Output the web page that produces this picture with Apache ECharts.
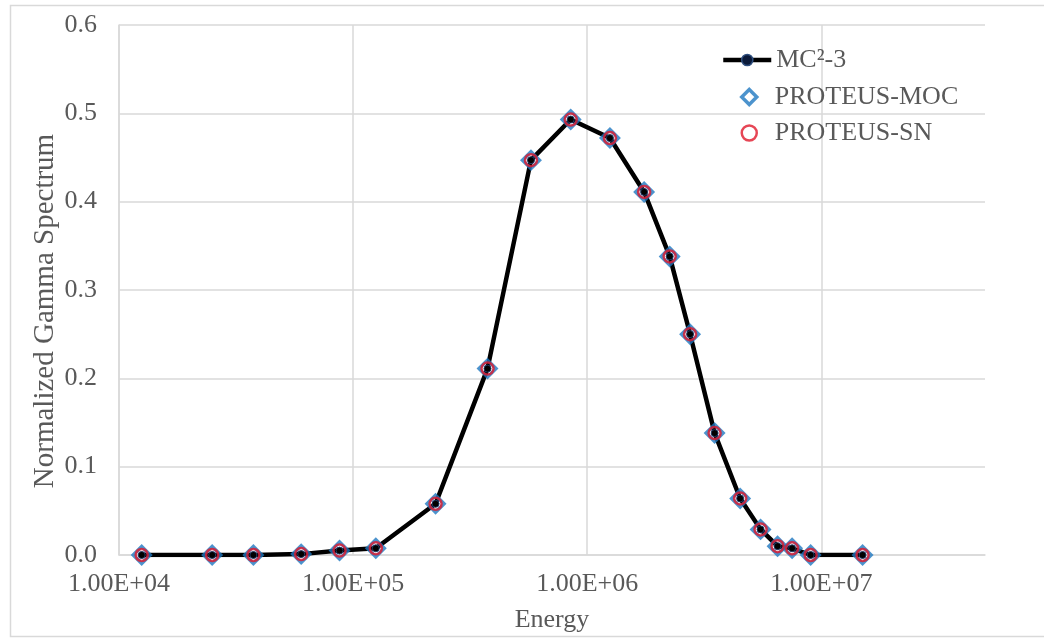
<!DOCTYPE html>
<html>
<head>
<meta charset="utf-8">
<script src="https://cdn.jsdelivr.net/npm/echarts@6/dist/echarts.min.js"></script>
<style>
  html, body { margin: 0; padding: 0; background: #fff; }
  #chart { width: 1044px; height: 638px; }
</style>
</head>
<body>
<div id="chart"></div>
<script>
// Energy points (eV)
const energies = [1.25e4, 2.5e4, 3.75e4, 6e4, 8.75e4, 1.25e5, 2.25e5, 3.75e5, 5.75e5, 8.5e5,
  1.25e6, 1.75e6, 2.25e6, 2.75e6, 3.5e6, 4.5e6, 5.5e6, 6.5e6, 7.5e6, 9e6, 1.5e7];
// Normalized gamma spectrum values
const mc2Values = [0, 0, 0, 0.001, 0.005, 0.0076, 0.058, 0.211, 0.447, 0.493,
  0.472, 0.411, 0.338, 0.250, 0.138, 0.064, 0.029, 0.010, 0.0076, 0, 0];
const mocValues = [0, 0, 0, 0.001, 0.005, 0.0076, 0.058, 0.211, 0.447, 0.493,
  0.472, 0.411, 0.338, 0.250, 0.138, 0.064, 0.029, 0.010, 0.0076, 0, 0];
const snValues = [0, 0, 0, 0.001, 0.005, 0.0076, 0.058, 0.211, 0.447, 0.493,
  0.472, 0.411, 0.338, 0.250, 0.138, 0.064, 0.029, 0.010, 0.0076, 0, 0];
const seriesNames = ['MC\u00B2-3', 'PROTEUS-MOC', 'PROTEUS-SN'];
const xAxisTitle = 'Energy';
const yAxisTitle = 'Normalized Gamma Spectrum';

const pairs = vals => energies.map((e, i) => [e, vals[i]]);
const FONT = '"Liberation Serif", "DejaVu Serif", serif';
const TXT = '#595959';
const GRID = '#d9d9d9';
const BLUE = '#1F78C1';
const RED = '#E0182B';

function sciLabel(v) {
  const exp = Math.floor(Math.log10(v) + 1e-9);
  const mant = v / Math.pow(10, exp);
  const sign = exp >= 0 ? '+' : '-';
  const e = String(Math.abs(exp)).padStart(2, '0');
  return mant.toFixed(2) + 'E' + sign + e;
}

const chart = echarts.init(document.getElementById('chart'), null, { renderer: 'canvas' });
chart.setOption({
  backgroundColor: '#fff',
  animation: false,
  graphic: [{
    type: 'rect',
    shape: { x: 10.5, y: 5.5, width: 1040, height: 631 },
    style: { fill: 'none', stroke: '#d9d9d9', lineWidth: 1.5 },
    silent: true
  }, {
    type: 'text',
    x: 45, y: 311,
    rotation: Math.PI / 2,
    style: {
      text: yAxisTitle, fontFamily: FONT, fontSize: 29, fill: TXT,
      align: 'center', verticalAlign: 'middle'
    },
    silent: true
  }],
  grid: { left: 119, right: 59, top: 25, bottom: 81, containLabel: false },
  legend: [{
    orient: 'vertical',
    left: 716,
    top: 42,
    itemWidth: 48,
    itemHeight: 14,
    textStyle: { fontFamily: FONT, fontSize: 26, color: TXT },
    data: [{
      name: seriesNames[0],
      lineStyle: { color: '#000', width: 4.5 },
      itemStyle: { color: '#0b1a3a', borderColor: '#2f4f7f', borderWidth: 1.5 }
    }]
  }, {
    orient: 'vertical',
    left: 735,
    top: 79,
    itemWidth: 15,
    itemHeight: 15,
    itemGap: 10,
    textStyle: { fontFamily: FONT, fontSize: 26, color: TXT, padding: [0, 0, 0, 13] },
    data: [
      { name: seriesNames[1], itemStyle: { color: 'rgba(0,0,0,0)', borderColor: BLUE, borderWidth: 3.5 } },
      { name: seriesNames[2], itemStyle: { color: 'rgba(0,0,0,0)', borderColor: RED, borderWidth: 2.5 } }
    ]
  }],
  xAxis: {
    type: 'log',
    logBase: 10,
    min: 1e4,
    max: 5e7,
    name: xAxisTitle,
    nameLocation: 'middle',
    nameGap: 52,
    nameTextStyle: { fontFamily: FONT, fontSize: 26, color: TXT },
    axisLine: { show: true, lineStyle: { color: GRID, width: 1.5 } },
    axisTick: { show: false },
    minorTick: { show: false },
    axisLabel: {
      fontFamily: FONT, fontSize: 26, color: TXT, margin: 16,
      showMaxLabel: false,
      formatter: v => sciLabel(v)
    },
    splitLine: { show: true, showMaxLine: false, lineStyle: { color: GRID, width: 1.5 } }
  },
  yAxis: {
    type: 'value',
    min: 0,
    max: 0.6,
    interval: 0.1,
    axisLine: { show: true, lineStyle: { color: GRID, width: 1.5 } },
    axisTick: { show: false },
    axisLabel: {
      fontFamily: FONT, fontSize: 26, color: TXT, margin: 22,
      formatter: v => v.toFixed(1)
    },
    splitLine: { show: true, lineStyle: { color: GRID, width: 1.5 } }
  },
  series: [
    {
      name: seriesNames[0],
      type: 'line',
      data: pairs(mc2Values),
      symbol: 'circle',
      symbolSize: 7,
      showAllSymbol: true,
      lineStyle: { color: '#000', width: 4.5 },
      itemStyle: { color: '#000', borderColor: '#1f3864', borderWidth: 1 },
      z: 2
    },
    {
      name: seriesNames[1],
      type: 'scatter',
      data: pairs(mocValues),
      symbol: 'diamond',
      symbolSize: 17,
      itemStyle: { color: 'rgba(0,0,0,0)', borderColor: BLUE, borderWidth: 3.5 },
      z: 3
    },
    {
      name: seriesNames[2],
      type: 'scatter',
      data: pairs(snValues),
      symbol: 'circle',
      symbolSize: 12,
      itemStyle: { color: 'rgba(0,0,0,0)', borderColor: RED, borderWidth: 2.5 },
      z: 4
    }
  ]
});
</script>
</body>
</html>
